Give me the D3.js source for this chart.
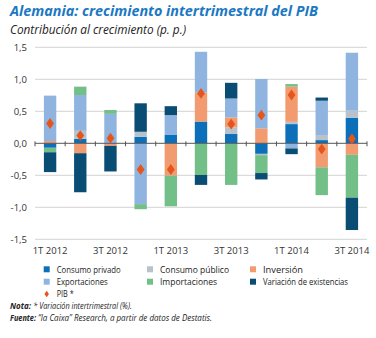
<!DOCTYPE html>
<html><head><meta charset="utf-8">
<script src="https://cdn.jsdelivr.net/npm/d3@7"></script>
<style>body{margin:0;background:#fff}svg{display:block;font-family:"Open Sans","Noto Sans",sans-serif}</style>
</head><body>
<svg id="c" width="376" height="338"></svg>
<script>
const quarters = ["1T 2012","2T 2012","3T 2012","4T 2012","1T 2013","2T 2013","3T 2013","4T 2013","1T 2014","2T 2014","3T 2014"];
const xLabels = ["1T 2012","3T 2012","1T 2013","3T 2013","1T 2014","3T 2014"];
const yTicks = [-1.5,-1.0,-0.5,0,0.5,1.0,1.5];
const seriesNames = ["Consumo privado","Consumo público","Inversión","Exportaciones","Importaciones","Variación de existencias"];
const consumoPrivado = [-0.07, 0.07, 0.00, 0.10, 0.13, 0.34, 0.145, -0.165, 0.30, 0.05, 0.40];
const consumoPublico = [0.00, 0.125, 0.00, 0.08, 0.00, 0.00, 0.105, -0.02, 0.035, 0.08, 0.11];
const inversion = [0.035, -0.155, -0.04, 0.00, -0.505, 0.455, 0.155, 0.235, 0.55, -0.375, -0.18];
const exportaciones = [0.71, 0.56, 0.46, -0.95, 0.31, 0.635, 0.295, 0.77, -0.08, 0.535, 0.905];
const importaciones = [-0.07, 0.13, 0.06, -0.08, -0.48, -0.495, -0.65, -0.28, 0.04, -0.435, -0.67];
const existencias = [-0.31, -0.61, -0.40, 0.445, 0.14, -0.155, 0.245, -0.10, -0.09, 0.05, -0.505];
const pib = [0.31, 0.12, 0.08, -0.41, -0.41, 0.78, 0.30, 0.44, 0.755, -0.09, 0.07];
const colors = ["#0b6fba","#b7c2ca","#f39b70","#8fb4e0","#72bf87","#0a4d74"];
const pibColor = "#e5561d";

const svg = d3.select("#c");
const series = [consumoPrivado, consumoPublico, inversion, exportaciones, importaciones, existencias];

const x = d3.scaleBand().domain(quarters).range([35, 367]).padding(0);
const y = d3.scaleLinear().domain([-1.5, 1.5]).range([239.3, 47.3]);
const barW = x.bandwidth() * 0.41;

function fitText(sel, w) { sel.attr("textLength", w).attr("lengthAdjust", "spacingAndGlyphs"); return sel; }

// title
fitText(svg.append("text").attr("x", 10).attr("y", 16).attr("fill", "#1b78c2")
  .attr("font-size", 14.5).attr("font-weight", "bold").attr("font-style", "italic")
  .text("Alemania: crecimiento intertrimestral del PIB"), 308);
fitText(svg.append("text").attr("x", 10).attr("y", 33.5).attr("fill", "#222")
  .attr("font-size", 12).attr("font-style", "italic")
  .text("Contribución al crecimiento (p. p.)"), 176);

// grid
svg.append("g").selectAll("line").data(yTicks.filter(d => d !== 0)).join("line")
  .attr("x1", 35).attr("x2", 367).attr("y1", d => y(d)).attr("y2", d => y(d))
  .attr("stroke", "#d3d3d3").attr("stroke-width", 1);
svg.append("g").selectAll("text").data(yTicks).join("text")
  .attr("x", 27).attr("y", d => y(d) + 3.5).attr("text-anchor", "end")
  .attr("font-size", 9.5).attr("fill", "#333")
  .text(d => d3.format(".1f")(d).replace(".", ",").replace("−", "-"));

// bars
quarters.forEach((q, i) => {
  let pos = 0, neg = 0;
  series.forEach((s, k) => {
    const v = s[i];
    if (v === 0) return;
    let y0, y1;
    if (v > 0) { y0 = pos; y1 = pos + v; pos = y1; } else { y0 = neg; y1 = neg + v; neg = y1; }
    svg.append("rect")
      .attr("x", x(q) + (x.bandwidth() - barW) / 2)
      .attr("width", barW)
      .attr("y", y(Math.max(y0, y1)))
      .attr("height", Math.abs(y(y0) - y(y1)))
      .attr("fill", colors[k]);
  });
});

// zero axis
svg.append("line").attr("x1", 35).attr("x2", 367).attr("y1", y(0)).attr("y2", y(0))
  .attr("stroke", "#555").attr("stroke-width", 1);
const tickPos = quarters.map(q => x(q)).concat([367]);
svg.append("g").selectAll("line").data(tickPos).join("line")
  .attr("x1", d => d).attr("x2", d => d).attr("y1", y(0) - 2).attr("y2", y(0) + 3)
  .attr("stroke", "#555").attr("stroke-width", 1);

// PIB diamonds
const diamond = d3.symbol().type(d3.symbolDiamond).size(34);
svg.append("g").selectAll("path").data(pib).join("path")
  .attr("d", diamond)
  .attr("transform", (d, i) => `translate(${x(quarters[i]) + x.bandwidth() / 2},${y(d)}) scale(1.25,1)`)
  .attr("fill", pibColor);

// x labels
svg.append("g").selectAll("text").data(xLabels).join("text")
  .attr("x", d => x(d) + x.bandwidth() / 2).attr("y", 254).attr("text-anchor", "middle")
  .attr("font-size", 9.5).attr("fill", "#333").text(d => d);

// legend
const legPos = [[46.7,269.3],[150,269.3],[253,269.3],[46.7,281.7],[150,281.7],[253,281.7]];
const legW = [64, 69, 40, 51, 57, 85];
seriesNames.forEach((n, k) => {
  const [lx, ly] = legPos[k];
  svg.append("rect").attr("x", lx - 3).attr("y", ly - 3).attr("width", 6).attr("height", 6).attr("fill", colors[k]);
  fitText(svg.append("text").attr("x", lx + 10).attr("y", ly + 3.2).attr("font-size", 9).attr("fill", "#222").text(n), legW[k]);
});
svg.append("path").attr("d", d3.symbol().type(d3.symbolDiamond).size(12))
  .attr("transform", "translate(46.7,294) scale(1.2,1)").attr("fill", pibColor);
fitText(svg.append("text").attr("x", 56.7).attr("y", 297.2).attr("font-size", 9).attr("fill", "#222").text("PIB *"), 17);

// notes
function note(yy, bold, boldW, rest, restX, restW) {
  fitText(svg.append("text").attr("x", 10).attr("y", yy).attr("font-size", 8.5).attr("font-style", "italic")
    .attr("font-weight", "bold").attr("fill", "#222").text(bold), boldW);
  fitText(svg.append("text").attr("x", restX).attr("y", yy).attr("font-size", 8.5).attr("font-style", "italic")
    .attr("fill", "#222").text(rest), restW);
}
note(308.5, "Nota:", 21, "* Variación intertrimestral (%).", 33.3, 98.5);
note(320.5, "Fuente:", 26, "“la Caixa” Research, a partir de datos de Destatis.", 38, 174);
</script>
</body></html>
